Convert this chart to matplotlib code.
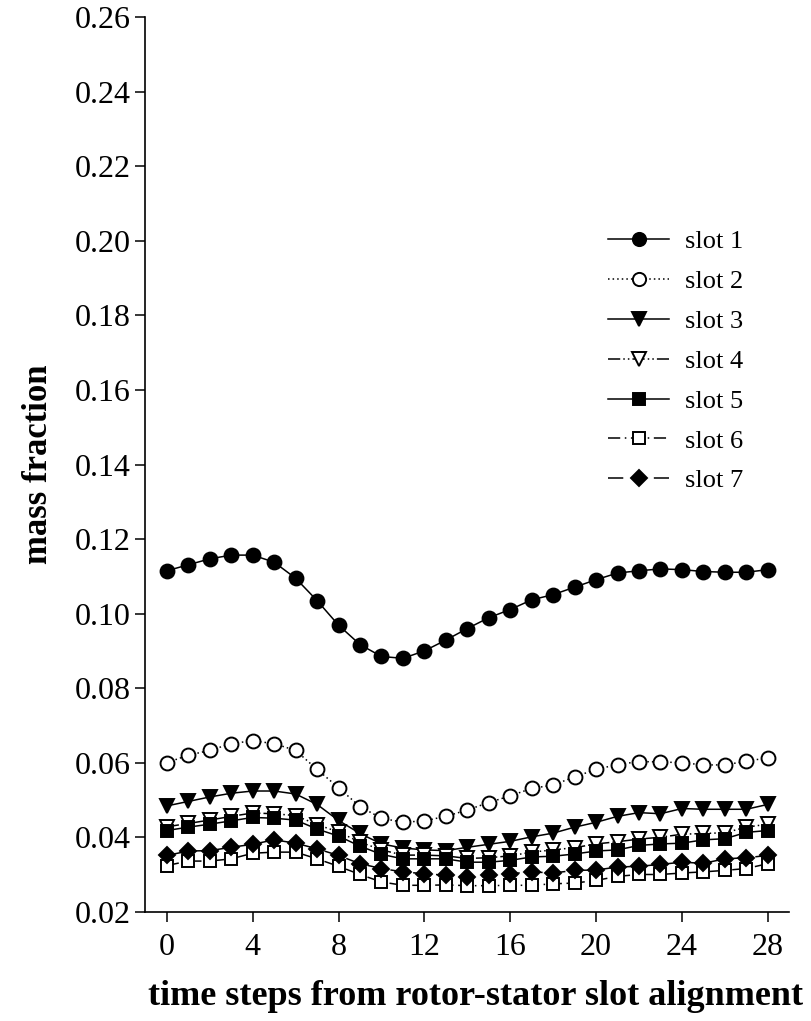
import matplotlib
matplotlib.use("Agg")
import matplotlib.pyplot as plt
import numpy as np

# ── Datos ───────────────────────────────────────────────────────────────────
time_steps = list(range(29))

slot1 = [0.1115, 0.1131, 0.1147, 0.1157, 0.1157, 0.1138, 0.1095, 0.1035, 0.0969,
         0.0917, 0.0885, 0.0880, 0.0900, 0.0929, 0.0960, 0.0989, 0.1011, 0.1037,
         0.1051, 0.1071, 0.1091, 0.1109, 0.1115, 0.1120, 0.1118, 0.1113, 0.1111,
         0.1111, 0.1118]
slot2 = [0.0600, 0.0620, 0.0633, 0.0651, 0.0659, 0.0651, 0.0633, 0.0582, 0.0533,
         0.0482, 0.0451, 0.0440, 0.0444, 0.0456, 0.0473, 0.0493, 0.0511, 0.0531,
         0.0540, 0.0562, 0.0582, 0.0595, 0.0603, 0.0602, 0.0600, 0.0594, 0.0594,
         0.0604, 0.0613]
slot3 = [0.0484, 0.0496, 0.0508, 0.0518, 0.0524, 0.0524, 0.0516, 0.0488, 0.0445,
         0.0410, 0.0382, 0.0371, 0.0366, 0.0364, 0.0373, 0.0381, 0.0389, 0.0401,
         0.0411, 0.0427, 0.0440, 0.0456, 0.0466, 0.0463, 0.0477, 0.0475, 0.0475,
         0.0475, 0.0488]
slot4 = [0.0428, 0.0437, 0.0446, 0.0456, 0.0465, 0.0463, 0.0458, 0.0434, 0.0414,
         0.0387, 0.0366, 0.0352, 0.0352, 0.0350, 0.0343, 0.0345, 0.0350, 0.0360,
         0.0366, 0.0372, 0.0382, 0.0388, 0.0395, 0.0400, 0.0408, 0.0410, 0.0412,
         0.0427, 0.0435]
slot5 = [0.0418, 0.0427, 0.0435, 0.0444, 0.0453, 0.0451, 0.0446, 0.0422, 0.0403,
         0.0376, 0.0354, 0.0342, 0.0342, 0.0342, 0.0333, 0.0333, 0.0338, 0.0347,
         0.0349, 0.0355, 0.0363, 0.0366, 0.0378, 0.0382, 0.0384, 0.0393, 0.0396,
         0.0413, 0.0418]
slot6 = [0.0324, 0.0336, 0.0336, 0.0342, 0.0357, 0.0360, 0.0360, 0.0342, 0.0322,
         0.0300, 0.0280, 0.0271, 0.0271, 0.0272, 0.0270, 0.0270, 0.0271, 0.0271,
         0.0275, 0.0277, 0.0284, 0.0295, 0.0300, 0.0300, 0.0304, 0.0307, 0.0311,
         0.0316, 0.0329]
slot7 = [0.0351, 0.0363, 0.0364, 0.0373, 0.0381, 0.0393, 0.0384, 0.0369, 0.0351,
         0.0329, 0.0316, 0.0307, 0.0302, 0.0298, 0.0293, 0.0298, 0.0302, 0.0307,
         0.0304, 0.0311, 0.0312, 0.0320, 0.0322, 0.0327, 0.0333, 0.0330, 0.0342,
         0.0345, 0.0351]

series = [slot1, slot2, slot3, slot4, slot5, slot6, slot7]
labels = ["slot 1", "slot 2", "slot 3", "slot 4", "slot 5", "slot 6", "slot 7"]
markers = ["o", "o", "v", "v", "s", "s", "D"]
fills = ["black", "white", "black", "white", "black", "white", "black"]
estilos = ["-", (0, (1, 2)), "-", (0, (8, 2, 1, 2, 1, 2)), "-", (0, (8, 3, 1, 3)),
           (0, (10, 5))]
tamanos = [10, 10, 10, 10, 9, 9, 8.5]

y_ticks = np.arange(0.02, 0.261, 0.02)
x_ticks = [0, 4, 8, 12, 16, 20, 24, 28]

plt.rcParams["font.family"] = ["Liberation Serif", "DejaVu Serif"]

fig = plt.figure(figsize=(8.12, 10.21), dpi=100)
ax = fig.add_axes([0.179, 0.107, 0.793, 0.876])

for ys, lab, mk, fc, ls, ms in zip(series, labels, markers, fills, estilos, tamanos):
    ax.plot(time_steps, ys, color="black", linestyle=ls, linewidth=1.1,
            marker=mk, markersize=ms, markerfacecolor=fc,
            markeredgecolor="black", markeredgewidth=1.4, label=lab)

ax.set_xlim(-1, 29)
ax.set_ylim(0.02, 0.26)
ax.set_xticks(x_ticks)
ax.set_yticks(y_ticks)
ax.set_yticklabels([f"{v:.2f}" for v in y_ticks])
ax.tick_params(axis="both", direction="out", length=7, width=1.1,
               labelsize=23, colors="black")
ax.tick_params(axis="x", pad=8)

for lado in ["top", "right"]:
    ax.spines[lado].set_visible(False)
for lado in ["left", "bottom"]:
    ax.spines[lado].set_linewidth(1.2)

ax.set_xlabel("time steps from rotor-stator slot alignment", fontsize=26,
              fontweight="bold")
ax.xaxis.set_label_coords(0.513, -0.076)
ax.set_ylabel("mass fraction", fontsize=25, fontweight="bold", labelpad=14)

ax.legend(loc="upper left", bbox_to_anchor=(0.72, 0.798),
          bbox_transform=fig.transFigure, frameon=False, fontsize=19,
          handlelength=2.3, labelspacing=0.62, handletextpad=0.6,
          markerscale=0.95)

fig.savefig("out.png", dpi=100)
